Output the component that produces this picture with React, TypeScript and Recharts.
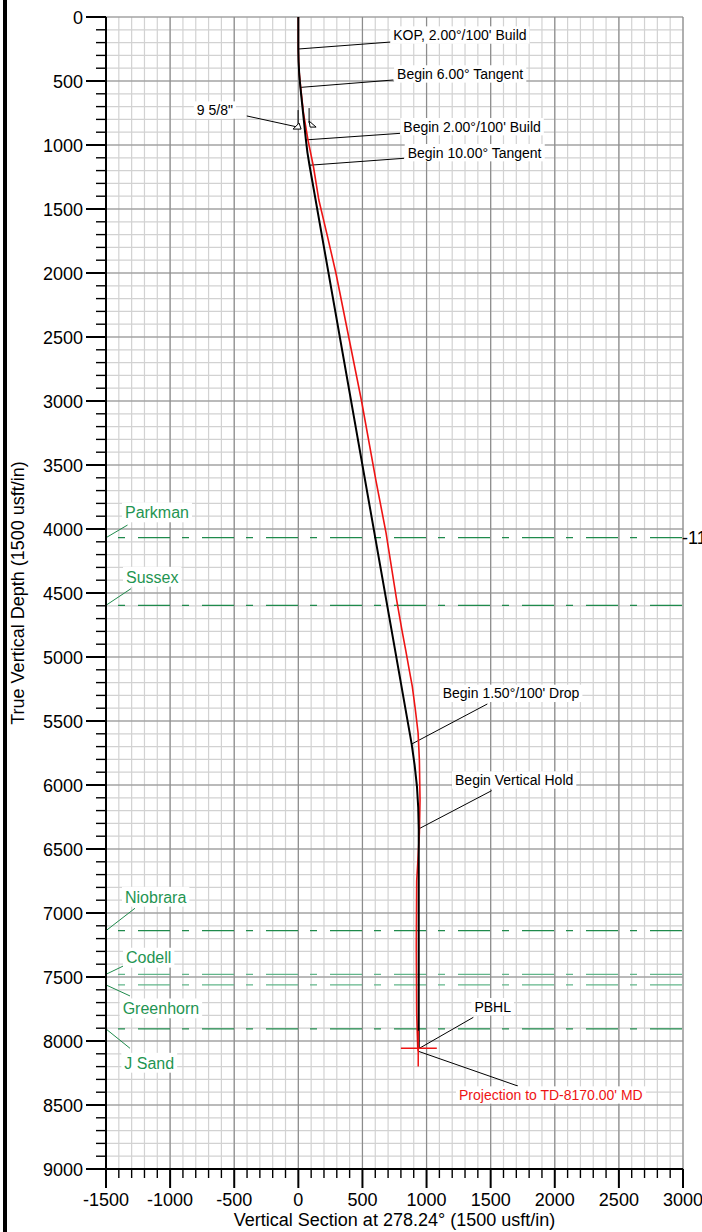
import React from "react";
import {
  LineChart,
  Line,
  XAxis,
  YAxis,
  CartesianGrid,
  ReferenceLine,
  ReferenceDot,
} from "recharts";

const FONT = '"Liberation Sans", Arial, sans-serif';
const RED = "#ee1414";

// plan (black) – vertical section vs true vertical depth, usft
const planVS = [0, 0, 2, 7, 16, 59, 71, 87, 884, 907, 925, 935, 939, 939];
const planTVD = [0, 250, 350, 450, 550, 960, 1059, 1158, 5680, 5845, 6010, 6177, 6343, 8060];

// projection / actual (red)
const actualVS = [0, 0, 4, 18, 40, 75, 118, 160, 224, 293, 393, 493, 605, 684, 767, 808, 838, 865, 889, 913, 934, 944, 949, 944, 932, 923, 920, 923, 931, 935];
const actualTVD = [0, 250, 400, 550, 750, 960, 1170, 1430, 1700, 2000, 2500, 3000, 3620, 4030, 4555, 4790, 4950, 5100, 5232, 5414, 5594, 5805, 6117, 6375, 6600, 6750, 7260, 7780, 8044, 8080];

// formation tops
const formationNames = ["Parkman", "Sussex", "Niobrara", "Codell", "Greenhorn", "J Sand"];
const formationTVD = [4068, 4596, 7138, 7479, 7562, 7906];
const formationLight = [false, false, false, true, true, false];

// well path annotations
const annotationText = [
  "KOP, 2.00°/100' Build",
  "Begin 6.00° Tangent",
  "Begin 2.00°/100' Build",
  "Begin 10.00° Tangent",
  "Begin 1.50°/100' Drop",
  "Begin Vertical Hold",
  "PBHL",
];
const annotationVS = [0, 16, 59, 87, 884, 939, 939];
const annotationTVD = [250, 550, 960, 1158, 5680, 6343, 8060];

const casingText = '9 5/8"';
const casingVS = 45;
const casingTVD = 860;

const pbhlVS = 940;
const pbhlTVD = 8057;

const projectionText = "Projection to TD-8170.00' MD";
const projectionVS = 935;
const projectionTVD = 8080;

const xMajor = [-1500, -1000, -500, 0, 500, 1000, 1500, 2000, 2500, 3000];
const yMajor = [0, 500, 1000, 1500, 2000, 2500, 3000, 3500, 4000, 4500, 5000, 5500, 6000, 6500, 7000, 7500, 8000, 8500, 9000];

const xTicks: number[] = [];
for (let v = -1500; v <= 3000; v += 100) xTicks.push(v);
const yTicks: number[] = [];
for (let v = 0; v <= 9000; v += 100) yTicks.push(v);

// label placement (axis units)
const annotationLeaderEnd = [
  [728, 195],
  [741, 492],
  [793, 909],
  [824, 1104],
  [1474, 5367],
  [1508, 6044],
  [1365, 7815],
];
const annotationTextAt = [
  [740, 141],
  [770, 445],
  [819, 857],
  [853, 1060],
  [1126, 5284],
  [1222, 5961],
  [1373, 7732],
];
const formationLeaderEnd = [
  [-1332, 3969],
  [-1305, 4466],
  [-1274, 6963],
  [-1365, 7414],
  [-1313, 7648],
  [-1313, 8057],
];
const formationTextAt = [
  [-1352, 3870],
  [-1344, 4373],
  [-1352, 6873],
  [-1344, 7349],
  [-1370, 7745],
  [-1357, 8170],
];

const planPath = planVS.map((vs, i) => ({ vs, tvd: planTVD[i] }));
const actualPath = actualVS.map((vs, i) => ({ vs, tvd: actualTVD[i] }));

let ctx: CanvasRenderingContext2D | null = null;
const measure = (s: string, size: number) => {
  if (!ctx) ctx = document.createElement("canvas").getContext("2d");
  if (!ctx) return s.length * size * 0.55;
  ctx.font = `${size}px "Liberation Sans"`;
  return ctx.measureText(s).width;
};

const BoxText = ({ cx, cy, text, size, color }: any) => {
  const w = measure(text, size);
  return (
    <g>
      <rect x={cx - 3} y={cy - size * 0.62} width={w + 6} height={size * 1.24} fill="#fff" />
      <text x={cx} y={cy + size * 0.36} fontSize={size} fill={color} fontFamily={FONT}>
        {text}
      </text>
    </g>
  );
};

const CasingMark = ({ cx, cy }: any) => (
  <g stroke="#000" strokeWidth={1} fill="#fff">
    <line x1={cx - 6} x2={cx - 6} y1={cy - 17} y2={cy - 2} />
    <polygon points={`${cx - 5},${cy - 4} ${cx - 11},${cy + 2} ${cx - 3},${cy + 2}`} />
    <line x1={cx + 5} x2={cx + 5} y1={cy - 19} y2={cy - 4} />
    <polygon points={`${cx + 5},${cy - 6} ${cx + 12},${cy} ${cx + 6},${cy}`} />
  </g>
);

const XTick = (p: any) => {
  const v = p.payload.value;
  const major = v % 500 === 0;
  return (
    <g>
      <line x1={p.x} x2={p.x} y1={p.y} y2={p.y + (major ? 19 : 9)} stroke="#000" strokeWidth={major ? 2 : 1.4} />
      {major && (
        <text x={p.x} y={p.y + 37} textAnchor="middle" fontSize={18} fontFamily={FONT} fill="#000">
          {v}
        </text>
      )}
    </g>
  );
};

const YTick = (p: any) => {
  const v = p.payload.value;
  const major = v % 500 === 0;
  return (
    <g>
      <line x1={p.x - (major ? 20 : 10)} x2={p.x} y1={p.y} y2={p.y} stroke="#000" strokeWidth={major ? 2 : 1.4} />
      {major && (
        <text x={p.x - 23} y={p.y + 6.5} textAnchor="end" fontSize={18} fontFamily={FONT} fill="#000">
          {v}
        </text>
      )}
    </g>
  );
};

const XTitle = ({ viewBox }: any) => (
  <text x={viewBox.x + viewBox.width / 2} y={viewBox.y + 57} textAnchor="middle" fontSize={18} fontFamily={FONT} fill="#000">
    Vertical Section at 278.24° (1500 usft/in)
  </text>
);

const YTitle = ({ viewBox }: any) => {
  const x = 24;
  const y = viewBox.y + viewBox.height / 2;
  return (
    <text x={x} y={y} transform={`rotate(-90 ${x} ${y})`} textAnchor="middle" fontSize={18} fontFamily={FONT} fill="#000">
      True Vertical Depth (1500 usft/in)
    </text>
  );
};

export default function App() {
  return (
    <div style={{ position: "absolute", left: 0, top: 0, width: 702, height: 1232, background: "#fff", overflow: "hidden" }}>
      <div style={{ position: "absolute", left: 3, top: 0, width: 4, height: 1232, background: "#000" }} />
      <LineChart width={702} height={1232} margin={{ top: 17, right: 19, bottom: 0, left: 0 }}>
        <CartesianGrid stroke="#d2d2d2" strokeWidth={1.2} />
        {xMajor
          .filter((v) => v !== -1500)
          .map((v) => (
            <ReferenceLine key={`mx${v}`} x={v} stroke="#8c8c8c" strokeWidth={1.2} />
          ))}
        {yMajor
          .filter((v) => v !== 9000)
          .map((v) => (
            <ReferenceLine key={`my${v}`} y={v} stroke="#8c8c8c" strokeWidth={1.2} />
          ))}

        {formationTVD.map((t, i) => (
          <ReferenceLine
            key={`f${i}`}
            y={t}
            stroke={formationLight[i] ? "#62b68a" : "#1f8a4c"}
            strokeWidth={1.3}
            strokeDasharray="32 12 7 13"
            strokeDashoffset={32}
          />
        ))}
        {formationTVD.map((t, i) => (
          <ReferenceLine
            key={`fl${i}`}
            segment={[
              { x: -1500, y: t },
              { x: formationLeaderEnd[i][0], y: formationLeaderEnd[i][1] },
            ]}
            stroke="#1f8a4c"
            strokeWidth={1}
          />
        ))}
        {formationNames.map((n, i) => (
          <ReferenceDot
            key={`ft${i}`}
            x={formationTextAt[i][0]}
            y={formationTextAt[i][1]}
            r={0}
            ifOverflow="visible"
            shape={(p: any) => <BoxText cx={p.cx} cy={p.cy} text={n} size={16} color="#1f9552" />}
          />
        ))}
        <ReferenceDot
          x={3000}
          y={formationTVD[0]}
          r={0}
          ifOverflow="visible"
          shape={(p: any) => (
            <text x={p.cx - 1} y={p.cy + 6.5} fontSize={18} fontFamily={FONT} fill="#000">
              -1100
            </text>
          )}
        />

        {annotationText.map((t, i) => (
          <ReferenceLine
            key={`al${i}`}
            segment={[
              { x: annotationVS[i], y: annotationTVD[i] },
              { x: annotationLeaderEnd[i][0], y: annotationLeaderEnd[i][1] },
            ]}
            stroke="#000"
            strokeWidth={1}
          />
        ))}
        {annotationText.map((t, i) => (
          <ReferenceDot
            key={`at${i}`}
            x={annotationTextAt[i][0]}
            y={annotationTextAt[i][1]}
            r={0}
            ifOverflow="visible"
            shape={(p: any) => <BoxText cx={p.cx} cy={p.cy} text={t} size={14} color="#000" />}
          />
        ))}

        <ReferenceLine
          segment={[
            { x: -402, y: 773 },
            { x: -18, y: 857 },
          ]}
          stroke="#000"
          strokeWidth={1}
        />
        <ReferenceDot
          x={-792}
          y={727}
          r={0}
          ifOverflow="visible"
          shape={(p: any) => <BoxText cx={p.cx} cy={p.cy} text={casingText} size={14} color="#000" />}
        />
        <ReferenceDot
          x={casingVS}
          y={casingTVD}
          r={0}
          ifOverflow="visible"
          shape={(p: any) => <CasingMark cx={p.cx} cy={p.cy} />}
        />

        <ReferenceLine
          segment={[
            { x: projectionVS, y: projectionTVD },
            { x: 1713, y: 8352 },
          ]}
          stroke="#000"
          strokeWidth={1}
        />
        <ReferenceDot
          x={1253}
          y={8422}
          r={0}
          ifOverflow="visible"
          shape={(p: any) => <BoxText cx={p.cx} cy={p.cy} text={projectionText} size={14} color={RED} />}
        />

        <XAxis
          type="number"
          dataKey="vs"
          domain={[-1500, 3000]}
          allowDataOverflow
          ticks={xTicks}
          interval={0}
          height={63}
          tickSize={0}
          tickMargin={0}
          tickLine={false}
          axisLine={{ stroke: "#000", strokeWidth: 2 }}
          tick={XTick}
          label={<XTitle />}
        />
        <YAxis
          type="number"
          dataKey="tvd"
          domain={[0, 9000]}
          reversed
          allowDataOverflow
          ticks={yTicks}
          interval={0}
          width={106}
          tickSize={0}
          tickMargin={0}
          tickLine={false}
          axisLine={{ stroke: "#000", strokeWidth: 2 }}
          tick={YTick}
          label={<YTitle />}
        />

        <Line
          data={actualPath}
          dataKey="tvd"
          type="linear"
          stroke={RED}
          strokeWidth={1.6}
          dot={false}
          isAnimationActive={false}
        />
        <Line
          data={planPath}
          dataKey="tvd"
          type="linear"
          stroke="#000"
          strokeWidth={2}
          dot={false}
          isAnimationActive={false}
        />

        <ReferenceLine
          segment={[
            { x: pbhlVS - 140, y: pbhlTVD },
            { x: pbhlVS + 140, y: pbhlTVD },
          ]}
          stroke={RED}
          strokeWidth={1.5}
        />
        <ReferenceLine
          segment={[
            { x: pbhlVS - 5, y: pbhlTVD - 137 },
            { x: pbhlVS - 5, y: pbhlTVD + 143 },
          ]}
          stroke={RED}
          strokeWidth={1.5}
        />
      </LineChart>
    </div>
  );
}
